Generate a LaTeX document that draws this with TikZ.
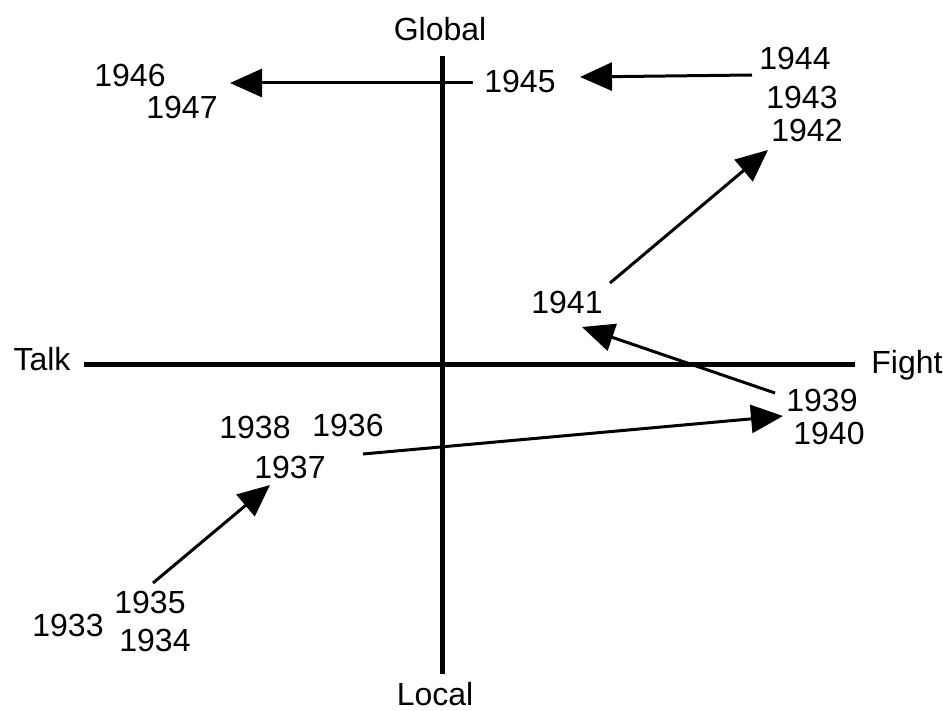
\documentclass[tikz,border=0pt]{standalone}
\usepackage{fontspec}
\setmainfont{Liberation Sans}
\usetikzlibrary{arrows.meta}
\begin{document}
\begin{tikzpicture}[x=1pt,y=-1pt,
  lbl/.style={inner sep=0pt,font=\fontsize{32}{38}\selectfont,text height=22.9pt,text depth=0pt},
  axis/.style={line width=5pt},
  conn/.style={line width=3pt,-{Triangle[length=32pt,width=28pt]}}]
\useasboundingbox (0,0) rectangle (943,711);
% axes
\coordinate (vt) at (442,56);
\coordinate (vb) at (442,674);
\coordinate (hl) at (84,365);
\coordinate (hr) at (855,365);
\draw[axis] (vt) -- (vb);
\draw[axis] (hl) -- (hr);
% axis labels
\node[lbl] (global) at (440,29) {Global};
\node[lbl] (local) at (435,694) {Local};
\node[lbl] (talk) at (42,359) {Talk};
\node[lbl] (fight) at (907,362) {Fight};
% years
\node[lbl] (y1945) at (520,81) {1945};
\node[lbl] (y1944) at (795,58) {1944};
\node[lbl] (y1943) at (802,97) {1943};
\node[lbl] (y1942) at (807,130) {1942};
\node[lbl] (y1946) at (130,75) {1946};
\node[lbl] (y1947) at (182,107) {1947};
\node[lbl] (y1941) at (567,302) {1941};
\node[lbl] (y1939) at (822,400) {1939};
\node[lbl] (y1940) at (829,433) {1940};
\node[lbl] (y1938) at (255,427) {1938};
\node[lbl] (y1936) at (348,425) {1936};
\node[lbl] (y1937) at (290,467) {1937};
\node[lbl] (y1935) at (150,602) {1935};
\node[lbl] (y1933) at (68,625) {1933};
\node[lbl] (y1934) at (155,640) {1934};
% connector ends
\coordinate (a1s) at (153,583);
\coordinate (a1e) at (270,485);
\coordinate (a2s) at (363,454);
\coordinate (a2e) at (783,416);
\coordinate (a3s) at (775,393);
\coordinate (a3e) at (582,327);
\coordinate (a4s) at (610,283);
\coordinate (a4e) at (768,150);
\coordinate (a5s) at (752,75);
\coordinate (a5e) at (580,77);
\coordinate (a6s) at (473,83);
\coordinate (a6e) at (230,83);
\draw[conn] (a1s) -- (a1e);
\draw[conn] (a2s) -- (a2e);
\draw[conn] (a3s) -- (a3e);
\draw[conn] (a4s) -- (a4e);
\draw[conn] (a5s) -- (a5e);
\draw[conn] (a6s) -- (a6e);
\end{tikzpicture}
\end{document}
